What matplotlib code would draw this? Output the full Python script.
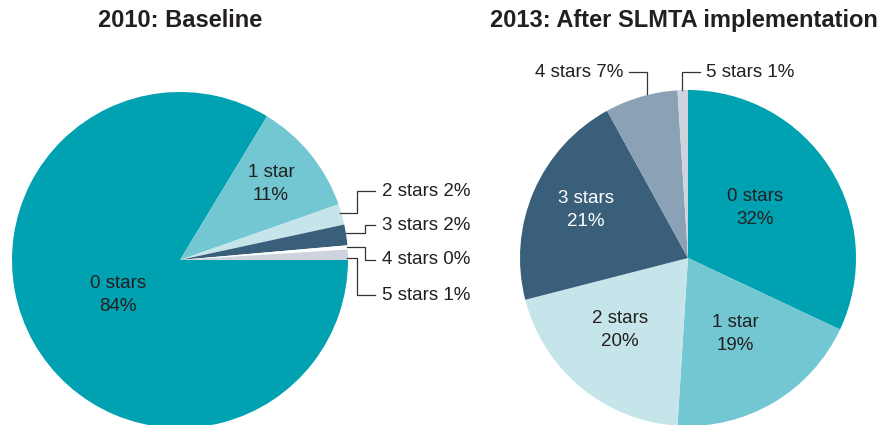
import matplotlib
matplotlib.use("Agg")
import matplotlib.pyplot as plt

# data
categories = ["0 stars", "1 star", "2 stars", "3 stars", "4 stars", "5 stars"]
pct_2010 = [84, 11, 2, 2, 0.4, 1]
pct_2013 = [32, 19, 20, 21, 7, 1]
label_2010 = ["84%", "11%", "2%", "2%", "0%", "1%"]
label_2013 = ["32%", "19%", "20%", "21%", "7%", "1%"]
titles = ["2010: Baseline", "2013: After SLMTA implementation"]

colors = ["#00A1B1", "#72C7D2", "#C5E5EA", "#395F7A", "#8BA2B6", "#CDD4DE"]
colors_2010 = colors[:4] + ["white"] + colors[5:]

plt.rcParams["font.family"] = ["Liberation Sans", "DejaVu Sans"]

W, H = 896, 425
fig = plt.figure(figsize=(W / 100, H / 100), dpi=100)
ax = fig.add_axes([0, 0, 1, 1])

R = 168
c_left = (180, H - 260)
c_right = (688, H - 258)

ax.pie(pct_2010, colors=colors_2010, startangle=0, counterclock=False,
       center=c_left, radius=R, wedgeprops=dict(linewidth=0))
ax.pie(pct_2013, colors=colors, startangle=90, counterclock=False,
       center=c_right, radius=R, wedgeprops=dict(linewidth=0))

ax.set_xlim(0, W)
ax.set_ylim(0, H)
ax.set_aspect("equal")
ax.axis("off")

FS = 13.5
txt = dict(fontsize=FS, color="#231F20", ha="center", va="center", linespacing=1.5)

# inner labels (pixel positions, y from top)
inner_2010 = {0: (118, 295), 1: (271, 184)}
inner_2013 = {0: (755, 208), 1: (735, 334), 2: (620, 330), 3: (586, 210)}
for i, (x, y) in inner_2010.items():
    ax.text(x, H - y, f"{categories[i]}\n{label_2010[i]}", **txt)
for i, (x, y) in inner_2013.items():
    kw = dict(txt)
    if i == 3:
        kw["color"] = "white"
    ax.text(x, H - y, f"{categories[i]}\n{label_2013[i]}", **kw)

# outside labels with elbow connectors (pixel coords, y from top)
outer_2010 = {
    2: [(340, 213), (357, 213), (357, 191), (375, 191)],
    3: [(346, 233), (365, 233), (365, 225), (375, 225)],
    4: [(347, 247), (365, 247), (365, 260), (375, 260)],
    5: [(347, 258), (357, 258), (357, 295), (375, 295)],
}
for i, pts in outer_2010.items():
    xs = [p[0] for p in pts]
    ys = [H - p[1] for p in pts]
    ax.plot(xs, ys, color="#333333", lw=0.9, solid_joinstyle="miter")
    ax.text(pts[-1][0] + 7, ys[-1], f"{categories[i]} {label_2010[i]}",
            fontsize=FS, color="#231F20", ha="left", va="center")

outer_2013 = {
    4: ([(647, 94), (647, 72), (629, 72)], "right"),
    5: ([(682, 90), (682, 72), (700, 72)], "left"),
}
for i, (pts, side) in outer_2013.items():
    xs = [p[0] for p in pts]
    ys = [H - p[1] for p in pts]
    ax.plot(xs, ys, color="#333333", lw=0.9, solid_joinstyle="miter")
    dx = -6 if side == "right" else 6
    ax.text(pts[-1][0] + dx, ys[-1], f"{categories[i]} {label_2013[i]}",
            fontsize=FS, color="#231F20", ha=side, va="center")

# titles
ax.text(180, H - 20, titles[0], fontsize=17, fontweight="bold",
        color="#231F20", ha="center", va="center")
ax.text(684, H - 20, titles[1], fontsize=17, fontweight="bold",
        color="#231F20", ha="center", va="center")

fig.savefig("out.png", dpi=100)
